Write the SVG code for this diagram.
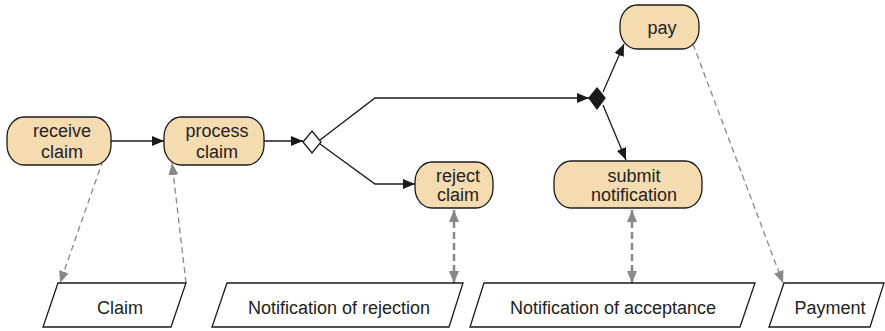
<svg xmlns="http://www.w3.org/2000/svg" width="885" height="331" viewBox="0 0 885 331">
<style>
.fn{fill:#f5dcb0;stroke:#1a1a1a;stroke-width:1.3}
.doc{fill:#fff;stroke:#1a1a1a;stroke-width:1.3}
text{font-family:"Liberation Sans",Arial,sans-serif;font-size:18px;fill:#222;text-anchor:middle}
.flow{fill:none;stroke:#1a1a1a;stroke-width:1.3}
.data{fill:none;stroke:#888;stroke-width:1.3;stroke-dasharray:6,4}
.data2{fill:none;stroke:#888;stroke-width:2.5;stroke-dasharray:7,4}
</style>
<defs>
<marker id="ab" markerWidth="12" markerHeight="10" refX="12" refY="5" orient="auto" markerUnits="userSpaceOnUse"><path d="M0,0 L12,5 L0,10 Z" fill="#1a1a1a"/></marker>
<marker id="ag" markerWidth="12" markerHeight="10" refX="12" refY="5" orient="auto" markerUnits="userSpaceOnUse"><path d="M0,0 L12,5 L0,10 Z" fill="#888"/></marker>
<marker id="ag2" markerWidth="12" markerHeight="10" refX="12" refY="5" orient="auto-start-reverse" markerUnits="userSpaceOnUse"><path d="M0,0 L12,5 L0,10 Z" fill="#888"/></marker>
</defs>

<g id="connectors">
<line class="flow" x1="111" y1="141" x2="164" y2="141" marker-end="url(#ab)"/>
<line class="flow" x1="264" y1="141" x2="303" y2="141" marker-end="url(#ab)"/>
<polyline class="flow" points="320,140 375,98 589,98" marker-end="url(#ab)"/>
<polyline class="flow" points="320,144 375,184 415,184" marker-end="url(#ab)"/>
<line class="flow" x1="603" y1="92" x2="624" y2="44" marker-end="url(#ab)"/>
<line class="flow" x1="603" y1="105" x2="626" y2="160" marker-end="url(#ab)"/>
<line class="data" x1="103" y1="160" x2="60" y2="283" marker-end="url(#ag)"/>
<line class="data" x1="186" y1="283" x2="172" y2="163" marker-end="url(#ag)"/>
<line class="data" x1="693" y1="44" x2="783" y2="283" marker-end="url(#ag)"/>
<line class="data2" x1="454" y1="210" x2="454" y2="283" marker-start="url(#ag2)" marker-end="url(#ag2)"/>
<line class="data2" x1="632" y1="210" x2="632" y2="283" marker-start="url(#ag2)" marker-end="url(#ag2)"/>
</g>

<g id="receive-claim">
<rect class="fn" x="7" y="117" width="104" height="48" rx="17" ry="20"/>
<text x="62" y="137">receive</text>
<text x="62" y="158">claim</text>
</g>
<g id="process-claim">
<rect class="fn" x="164" y="117" width="100" height="48" rx="17" ry="20"/>
<text x="217" y="137">process</text>
<text x="217" y="158">claim</text>
</g>
<g id="xor">
<path d="M312,131 L321,142 L312,153 L303,142 Z" fill="#fff" stroke="#1a1a1a" stroke-width="1.3"/>
</g>
<g id="and">
<path d="M597,88 L605,98 L597,109 L589,98 Z" fill="#1a1a1a" stroke="#1a1a1a" stroke-width="1.3"/>
</g>
<g id="reject-claim">
<rect class="fn" x="415" y="162" width="78" height="46" rx="17" ry="20"/>
<text x="458" y="182">reject</text>
<text x="458" y="201">claim</text>
</g>
<g id="pay">
<rect class="fn" x="620" y="5" width="79" height="44" rx="17" ry="20"/>
<text x="662" y="34">pay</text>
</g>
<g id="submit-notification">
<rect class="fn" x="554" y="161" width="148" height="47" rx="17" ry="20"/>
<text x="634" y="182">submit</text>
<text x="634" y="201">notification</text>
</g>

<g id="claim-doc">
<path class="doc" d="M58,283 L186,283 L171,327 L43,327 Z"/>
<text x="120" y="314">Claim</text>
</g>
<g id="rejection-doc">
<path class="doc" d="M227,283 L463,283 L449,327 L212,327 Z"/>
<text x="339" y="314">Notification of rejection</text>
</g>
<g id="acceptance-doc">
<path class="doc" d="M484,283 L755,283 L740,327 L470,327 Z"/>
<text x="613" y="314">Notification of acceptance</text>
</g>
<g id="payment-doc">
<path class="doc" d="M784,283 L884,283 L870,327 L769,327 Z"/>
<text x="830" y="314">Payment</text>
</g>
</svg>
